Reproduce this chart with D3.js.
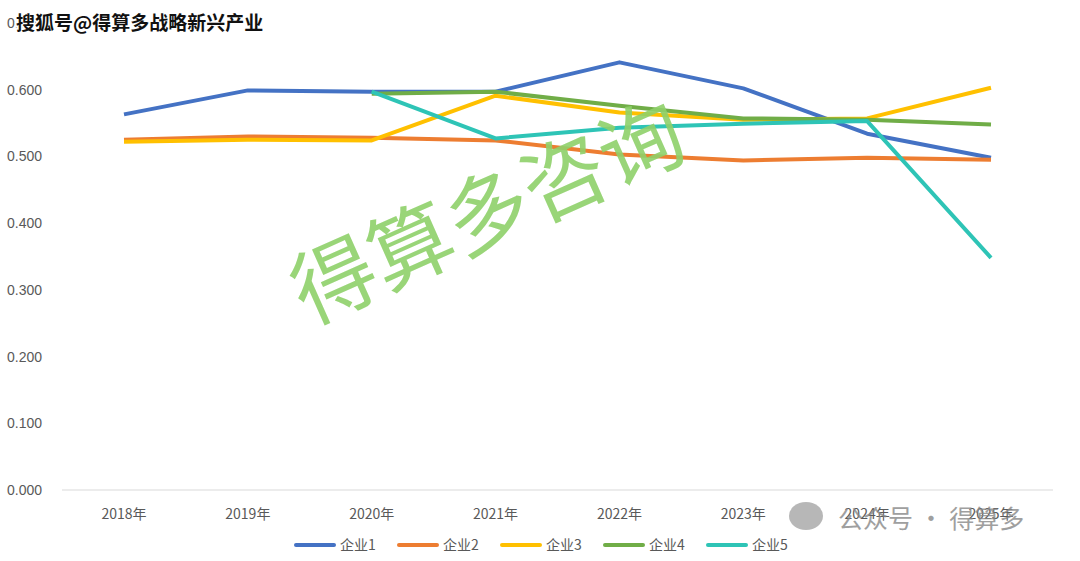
<!DOCTYPE html>
<html><head><meta charset="utf-8">
<script src="https://cdn.jsdelivr.net/npm/d3@7"></script>
<style>body{margin:0;background:#fff}svg{display:block}</style>
</head><body>
<svg id="s" width="1080" height="561"></svg>
<script>
// Data
const years = ["2018年","2019年","2020年","2021年","2022年","2023年","2024年","2025年"];
const names = ["企业1","企业2","企业3","企业4","企业5"];
const colors = ["#4472C4","#ED7D31","#FFC000","#70AD47","#2EC4B6"];
const v1 = [0.563,0.599,0.597,0.597,0.641,0.602,0.534,0.498];
const v2 = [0.525,0.530,0.528,0.524,0.503,0.494,0.498,0.495];
const v3 = [0.522,0.525,0.524,0.591,0.566,0.555,0.557,0.603];
const v4 = [null,null,0.594,0.597,0.576,0.557,0.555,0.548];
const v5 = [null,null,0.597,0.527,0.543,0.549,0.553,0.348];
const yTicks = [0,0.1,0.2,0.3,0.4,0.5,0.6,0.7];

const svg = d3.select("#s");
const x = d3.scalePoint().domain(years).range([124, 991]);
const y = d3.scaleLinear().domain([0, 0.7]).range([490, 23]);

svg.append("line").attr("x1", 62).attr("x2", 1053).attr("y1", 490).attr("y2", 490)
  .attr("stroke", "#d9d9d9");
svg.selectAll(".yt").data(yTicks).join("text")
  .attr("x", 42).attr("y", d => y(d) + 5).attr("text-anchor", "end")
  .attr("font-family", "Liberation Sans, Arial").attr("font-size", 14).attr("fill", "#595959")
  .text(d => d.toFixed(3));
svg.selectAll(".xt").data(years).join("text")
  .attr("x", d => x(d)).attr("y", 519).attr("text-anchor", "middle")
  .attr("font-family", "Noto Sans CJK SC").attr("font-size", 14).attr("fill", "#595959")
  .text(d => d);

const series = [v1, v2, v3, v4, v5];
const line = d3.line().defined(d => d != null).x((d, i) => x(years[i])).y(d => y(d));
series.forEach((s, k) => {
  svg.append("path").attr("d", line(s)).attr("fill", "none")
    .attr("stroke", colors[k]).attr("stroke-width", 4).attr("stroke-linejoin", "round");
});

// legend
const lg = svg.append("g");
names.forEach((n, k) => {
  const lx = 296 + k * 103;
  lg.append("line").attr("x1", lx).attr("x2", lx + 38).attr("y1", 545).attr("y2", 545)
    .attr("stroke", colors[k]).attr("stroke-width", 4).attr("stroke-linecap", "round");
  lg.append("text").attr("x", lx + 44).attr("y", 550)
    .attr("font-family", "Noto Sans CJK SC").attr("font-size", 14).attr("fill", "#595959").text(n);
});

// watermarks
svg.append("text").attr("transform", "translate(500,240) rotate(-24)")
  .attr("text-anchor", "middle").attr("font-family", "Noto Sans CJK SC").attr("font-size", 84)
  .attr("fill", "#8fd16a").attr("opacity", 0.9)
  .text("得算多咨询");
svg.append("text").attr("x", 16).attr("y", 30)
  .attr("font-family", "Noto Sans CJK SC").attr("font-weight", "bold").attr("font-size", 19)
  .attr("fill", "#111").attr("stroke", "#fff").attr("stroke-width", 3).attr("paint-order", "stroke")
  .text("搜狐号@得算多战略新兴产业");
svg.append("text").attr("x", 838).attr("y", 528)
  .attr("font-family", "Noto Sans CJK SC").attr("font-size", 25).attr("fill", "#888").attr("opacity", 0.8)
  .text("公众号 · 得算多");
svg.append("ellipse").attr("cx", 806).attr("cy", 516).attr("rx", 17).attr("ry", 14)
  .attr("fill", "#999").attr("opacity", 0.7);
</script>
</body></html>
